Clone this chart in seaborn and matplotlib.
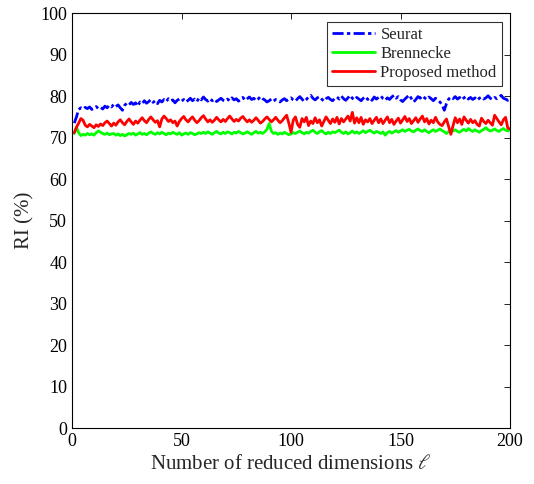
import numpy as np
import pandas as pd
import matplotlib
matplotlib.use("Agg")
import matplotlib.pyplot as plt
import seaborn as sns

dims = list(range(1, 201))

seurat = [
73.5, 75.0, 76.8, 77.2, 76.9, 77.3, 77.0, 77.4, 76.8, 77.1, 77.5, 77.0, 77.3, 76.9, 77.6, 77.2, 77.8, 77.4, 78.0, 77.5,
77.9, 77.2, 76.6, 77.8, 78.3, 77.9, 78.5, 78.0, 78.4, 77.6, 78.6, 78.2, 78.9, 78.3, 78.7, 79.2, 78.5, 78.9, 78.2, 79.0,
78.6, 79.2, 78.7, 79.4, 78.9, 79.1, 78.4, 79.0, 79.3, 78.8, 79.2, 78.6, 79.0, 79.5, 78.9, 79.3, 78.7, 79.6, 79.1, 79.8,
79.2, 78.8, 79.4, 78.9, 79.3, 78.7, 79.1, 79.5, 79.0, 78.8, 79.3, 78.9, 79.6, 79.1, 79.4, 78.8, 79.2, 79.7, 79.0, 79.4,
79.8, 79.2, 79.5, 78.9, 79.3, 79.9, 79.4, 79.1, 78.6, 78.9, 79.3, 78.8, 79.2, 79.0, 78.6, 79.1, 79.4, 78.9, 79.3, 79.6,
79.1, 78.8, 79.4, 79.9, 79.3, 78.7, 79.2, 79.8, 80.2, 79.5, 79.1, 79.6, 79.9, 79.3, 78.8, 79.4, 79.7, 79.2, 78.9, 79.5,
79.8, 79.3, 80.0, 79.4, 79.0, 79.6, 80.2, 79.5, 79.1, 79.7, 79.3, 78.9, 79.5, 79.9, 79.2, 79.6, 79.0, 79.8, 79.3, 79.7,
80.1, 79.4, 79.0, 79.6, 79.2, 79.8, 80.2, 79.5, 79.9, 79.1, 78.7, 79.3, 79.8, 80.3, 79.4, 78.6, 79.2, 79.9, 79.5, 80.1,
79.6, 79.2, 79.8, 79.4, 78.9, 79.5, 79.1, 78.6, 77.9, 76.6, 78.2, 79.3, 79.8, 79.4, 79.9, 79.3, 79.7, 79.1, 79.6, 80.0,
79.3, 79.7, 79.2, 79.6, 79.0, 79.5, 79.8, 79.3, 79.6, 80.1, 79.5, 79.2, 79.7, 79.4, 79.8, 80.2, 79.5, 79.3, 79.0, 79.2,
]

brennecke = [
71.0, 72.5, 71.2, 70.5, 70.8, 70.6, 71.0, 70.7, 70.9, 70.6, 71.2, 71.6, 71.3, 71.0, 70.8, 71.1, 70.7, 70.9, 71.0, 70.6,
70.9, 70.5, 70.8, 70.4, 70.7, 71.0, 70.8, 71.1, 70.6, 70.9, 71.2, 70.8, 71.0, 70.7, 71.1, 71.4, 71.0, 70.8, 71.2, 70.9,
71.3, 71.0, 70.7, 71.1, 70.9, 71.3, 71.0, 70.8, 71.2, 70.6, 70.9, 71.1, 70.8, 71.2, 71.0, 70.7, 70.9, 71.2, 71.0, 71.3,
71.0, 71.4, 71.1, 70.8, 71.2, 71.5, 71.1, 70.9, 71.3, 71.0, 71.4, 71.2, 70.9, 71.3, 71.1, 71.5, 71.2, 70.9, 71.1, 71.4,
71.1, 70.8, 71.2, 71.5, 71.1, 71.3, 71.0, 71.4, 72.0, 73.4, 71.6, 71.0, 71.2, 70.8, 71.1, 70.9, 71.3, 71.0, 70.7, 70.9,
71.2, 71.0, 71.3, 71.6, 71.2, 70.9, 71.3, 71.1, 71.5, 71.8, 71.3, 71.0, 71.4, 71.7, 71.2, 70.9, 71.3, 71.0, 71.4, 71.2,
71.5, 71.8, 71.3, 71.0, 71.4, 70.9, 71.2, 71.6, 71.1, 71.4, 71.0, 71.3, 71.7, 71.2, 71.5, 71.8, 71.4, 71.1, 71.5, 71.3,
71.0, 71.4, 70.6, 71.2, 71.5, 71.1, 71.4, 71.7, 71.3, 71.6, 71.9, 71.5, 71.8, 72.0, 71.6, 71.4, 71.8, 72.1, 71.7, 71.5,
71.9, 71.5, 71.2, 71.6, 71.9, 71.5, 71.8, 72.1, 71.7, 71.4, 71.0, 71.5, 71.8, 71.6, 71.9, 71.5, 71.3, 71.7, 72.0, 71.6,
72.2, 71.8, 71.5, 71.9, 71.6, 71.3, 71.7, 72.0, 72.4, 71.9, 71.6, 71.8, 72.1, 71.7, 71.5, 71.9, 72.2, 71.8, 71.6, 72.0,
]

proposed = [
71.2, 72.5, 73.5, 74.6, 74.2, 73.0, 72.6, 73.2, 72.8, 72.4, 73.1, 72.7, 73.3, 72.9, 73.6, 74.0, 73.4, 72.8, 73.5, 73.0,
73.8, 74.3, 73.6, 73.1, 73.9, 74.5, 73.8, 73.2, 74.0, 73.5, 74.2, 74.8, 74.1, 73.6, 74.4, 75.0, 74.3, 73.7, 74.1, 72.6,
74.5, 75.2, 74.6, 73.9, 74.3, 73.6, 74.0, 72.8, 73.9, 74.6, 75.1, 74.3, 73.8, 74.5, 75.0, 74.2, 73.6, 74.1, 74.8, 75.3,
74.5, 73.8, 74.3, 73.7, 74.2, 74.9, 74.3, 73.8, 74.4, 73.9, 74.6, 75.2, 74.5, 73.9, 74.4, 74.0, 74.7, 75.1, 74.4, 73.8,
74.3, 73.7, 74.2, 74.8, 74.2, 73.5, 73.9, 74.5, 75.0, 74.4, 73.8, 74.3, 74.9, 74.2, 73.6, 74.1, 74.8, 75.4, 73.5, 71.3,
74.2, 75.0, 73.2, 72.5, 74.6, 73.8, 74.9, 72.9, 74.0, 73.4, 74.8, 73.6, 74.3, 72.8, 73.9, 75.0, 74.2, 73.4, 74.5, 73.7,
74.9, 73.3, 74.6, 73.8, 74.5, 75.2, 74.0, 76.1, 73.5, 74.8, 73.6, 74.9, 73.2, 74.3, 73.8, 74.6, 73.4, 74.2, 74.9, 73.6,
74.5, 73.4, 74.2, 75.0, 73.6, 74.4, 73.2, 74.0, 74.7, 73.5, 74.3, 75.1, 73.9, 74.6, 73.4, 74.1, 74.8, 73.7, 74.5, 75.2,
73.8, 74.6, 73.3, 74.2, 73.6, 74.9, 73.8, 73.2, 72.9, 73.8, 74.5, 72.6, 70.8, 72.9, 74.8, 73.6, 74.5, 73.2, 75.0, 74.2,
73.5, 74.4, 73.6, 74.1, 73.2, 72.8, 74.7, 73.9, 73.4, 74.2, 73.6, 73.0, 75.4, 74.6, 73.8, 73.1, 74.3, 74.9, 72.3, 72.1,
]

series_names = ["Seurat", "Brennecke", "Proposed method"]
x_ticks = [0, 50, 100, 150, 200]
y_ticks = [0, 10, 20, 30, 40, 50, 60, 70, 80, 90, 100]

df = pd.DataFrame({
    "dim": dims * 3,
    "ri": seurat + brennecke + proposed,
    "method": [series_names[0]] * 200 + [series_names[1]] * 200 + [series_names[2]] * 200,
})

sns.set_style("white")
plt.rcParams["font.family"] = ["Liberation Serif", "DejaVu Serif"]
plt.rcParams["mathtext.fontset"] = "stix"

fig = plt.figure(figsize=(5.34, 4.84), dpi=100)
ax = fig.add_axes([0.135, 0.1157, 0.82, 0.857])

colors = {"Seurat": "#0000ff", "Brennecke": "#00ff00", "Proposed method": "#ff0000"}
styles = {"Seurat": (0, (4, 1.2, 1.2, 1.2)), "Brennecke": "-", "Proposed method": "-"}
for name in series_names:
    sub = df[df["method"] == name]
    sns.lineplot(data=sub, x="dim", y="ri", ax=ax, color=colors[name],
                 linestyle=styles[name], linewidth=2, label=name)

ax.set_xlim(0, 200)
ax.set_ylim(0, 100)
ax.set_xticks(x_ticks)
ax.set_yticks(y_ticks)
ax.tick_params(direction="in", top=True, right=True, length=4, width=0.6,
               labelsize=13, colors="black")
for s in ax.spines.values():
    s.set_linewidth(0.8)
    s.set_color("black")
    s.set_visible(True)
ax.set_xlabel(r"Number of reduced dimensions $\ell$", fontsize=15)
ax.set_ylabel("RI (%)", fontsize=15)

leg = ax.legend(loc="upper right", fontsize=12, frameon=True, fancybox=False,
                edgecolor="black", handlelength=2.6, borderpad=0.3,
                labelspacing=0.2, handletextpad=0.3, borderaxespad=0.5)
leg.get_frame().set_linewidth(0.8)

fig.savefig("out.png", dpi=100)
